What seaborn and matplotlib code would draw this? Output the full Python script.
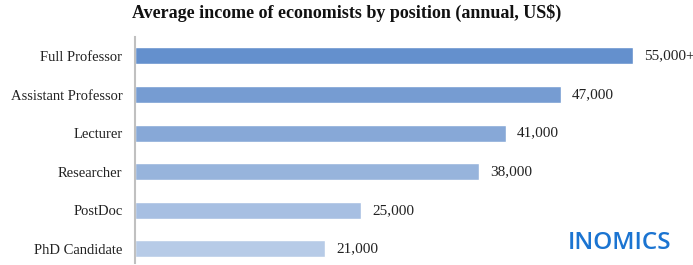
import matplotlib
matplotlib.use('Agg')

import pandas as pd
import matplotlib.pyplot as plt
import seaborn as sns

# ========== DATA ==========
positions = ['Full Professor', 'Assistant Professor', 'Lecturer',
             'Researcher', 'PostDoc', 'PhD Candidate']
income = [55000, 47000, 41000, 38000, 25000, 21000]
value_labels = ['55,000+', '47,000', '41,000', '38,000', '25,000', '21,000']

df = pd.DataFrame({'position': positions, 'income': income})

bar_colors = ['#6490cd', '#769cd2', '#87a8d7', '#97b4dc', '#a7bfe2', '#b7cbe7']

# ========== PLOT ==========
sns.set_style('white')
plt.rcParams['font.family'] = ['Liberation Serif', 'DejaVu Serif']

fig = plt.figure(figsize=(6.93, 2.65), dpi=100)
ax = fig.add_axes([135 / 693, 2 / 265, 498 / 693 * 1.1, 226 / 265])

sns.barplot(data=df, x='income', y='position', hue='position',
            palette=bar_colors, saturation=1, legend=False, width=0.44, ax=ax)

ax.set_xlim(0, 55000 * 1.1)
ax.set_ylim(5.365, -0.49)

for i, (v, lab) in enumerate(zip(income, value_labels)):
    ax.annotate(lab, (v, i), xytext=(11, 0), textcoords='offset pixels',
                va='center', ha='left', fontsize=11, color='#222222')

ax.set_xlabel('')
ax.set_ylabel('')
ax.set_xticks([])
ax.tick_params(axis='y', length=0, pad=9, labelsize=10.5, labelcolor='#222222')
for s in ['top', 'right', 'bottom']:
    ax.spines[s].set_visible(False)
ax.spines['left'].set_color('#c0c0c0')
ax.spines['left'].set_linewidth(1.5)

fig.text(0.5, 0.952, 'Average income of economists by position (annual, US$)',
         ha='center', va='center', fontsize=13, fontweight='bold', color='#111111')

fig.text(620 / 693, 1 - 243 / 265, 'INOMICS', ha='center', va='center',
         fontsize=17.5, fontweight='semibold', color='#1b74d1',
         family=['Open Sans', 'DejaVu Sans'])

fig.savefig('out.png', dpi=100)
